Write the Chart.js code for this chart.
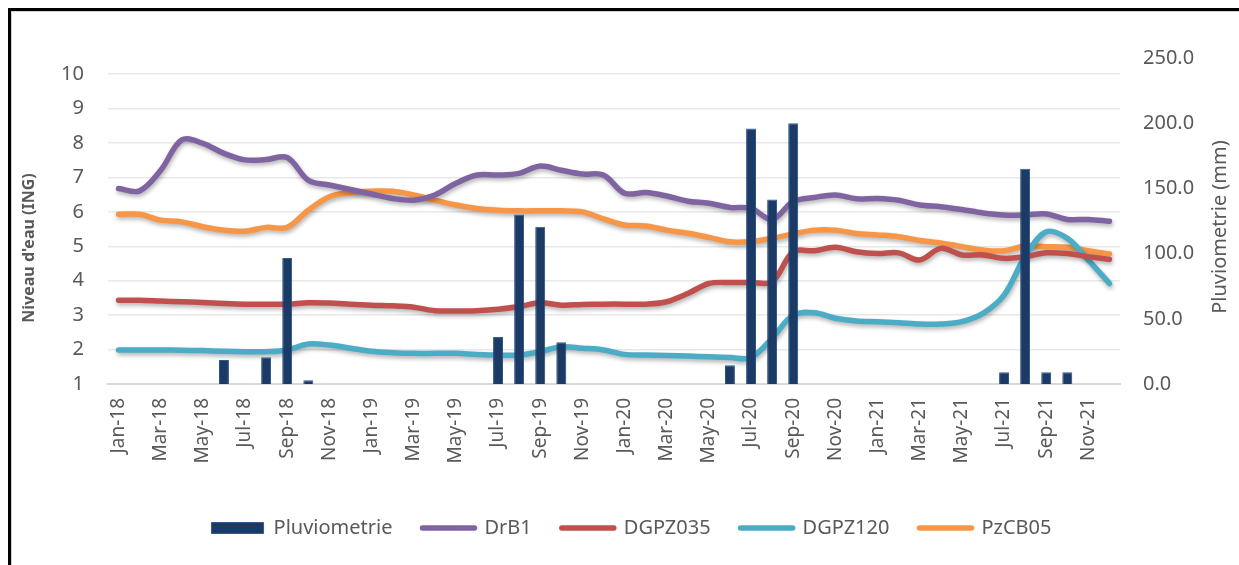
<!DOCTYPE html>
<html>
<head>
<meta charset="utf-8">
<script src="https://cdn.jsdelivr.net/npm/chart.js@4.4.1/dist/chart.umd.min.js"></script>
<style>
  html, body { margin: 0; padding: 0; background: #ffffff; }
  #wrap { position: relative; width: 1239px; height: 565px; overflow: hidden; }
  #frame { position: absolute; left: 8px; top: 8px; width: 1300px; height: 600px;
           border-left: 3px solid #000; border-top: 3px solid #000; box-sizing: border-box; }
  #frame2 { position: absolute; left: 11px; top: 11px; width: 1300px; height: 600px;
           border-left: 1px solid #cfcfcf; border-top: 1px solid #cfcfcf; box-sizing: border-box; }
  #cv { position: absolute; left: 0; top: 0; }
</style>
</head>
<body>
<div id="wrap">
  <div id="frame"></div>
  <div id="frame2"></div>
  <canvas id="cv" width="1239" height="565"></canvas>
</div>
<script>
const months = ["Jan-18","Feb-18","Mar-18","Apr-18","May-18","Jun-18","Jul-18","Aug-18","Sep-18","Oct-18","Nov-18","Dec-18",
  "Jan-19","Feb-19","Mar-19","Apr-19","May-19","Jun-19","Jul-19","Aug-19","Sep-19","Oct-19","Nov-19","Dec-19",
  "Jan-20","Feb-20","Mar-20","Apr-20","May-20","Jun-20","Jul-20","Aug-20","Sep-20","Oct-20","Nov-20","Dec-20",
  "Jan-21","Feb-21","Mar-21","Apr-21","May-21","Jun-21","Jul-21","Aug-21","Sep-21","Oct-21","Nov-21","Dec-21"];

const pluviometrie = [0,0,0,0,0,18.5,0,20.6,96.7,2.8,0,0,
  0,0,0,0,0,0,36,130,120.5,32,0,0,
  0,0,0,0,0,14.3,196,141.5,200,0,0,0,
  0,0,0,0,0,0,9,165,9,9,0,0];

const drB1 = [6.68,6.61,7.21,8.09,7.99,7.70,7.51,7.52,7.58,6.92,6.78,6.65,
  6.52,6.39,6.34,6.49,6.83,7.07,7.07,7.12,7.33,7.21,7.10,7.07,
  6.54,6.56,6.46,6.31,6.25,6.13,6.10,5.78,6.30,6.42,6.49,6.38,
  6.39,6.34,6.20,6.15,6.07,5.97,5.91,5.91,5.94,5.78,5.78,5.73];

const dgpz035 = [3.43,3.43,3.41,3.39,3.37,3.34,3.32,3.32,3.32,3.36,3.35,3.32,
  3.29,3.27,3.23,3.13,3.12,3.13,3.17,3.25,3.36,3.29,3.31,3.32,
  3.32,3.32,3.39,3.63,3.92,3.95,3.95,3.97,4.84,4.87,4.97,4.84,
  4.79,4.81,4.60,4.94,4.75,4.75,4.65,4.70,4.81,4.79,4.70,4.62];

const dgpz120 = [1.99,1.99,1.99,1.98,1.97,1.95,1.94,1.94,1.99,2.16,2.13,2.04,
  1.95,1.91,1.89,1.89,1.89,1.86,1.84,1.84,1.94,2.08,2.04,1.99,
  1.86,1.84,1.83,1.81,1.79,1.77,1.77,2.33,3.00,3.07,2.91,2.83,
  2.81,2.78,2.74,2.74,2.81,3.05,3.58,4.70,5.42,5.23,4.60,3.92];

const pzCB05 = [5.93,5.93,5.76,5.71,5.57,5.47,5.44,5.55,5.55,6.05,6.44,6.56,
  6.60,6.60,6.49,6.34,6.20,6.10,6.05,6.03,6.03,6.03,6.00,5.80,
  5.62,5.59,5.47,5.38,5.26,5.13,5.14,5.23,5.36,5.47,5.47,5.37,
  5.33,5.28,5.17,5.10,4.99,4.89,4.87,5.01,4.99,4.97,4.87,4.78];

const leftTicks = [1,2,3,4,5,6,7,8,9,10];
const rightTicks = [0,50,100,150,200,250];

const FONT = "'Noto Sans', 'DejaVu Sans', sans-serif";
const GREY = '#595959';

function lineDs(label, data, color) {
  return { type: 'line', label, data, borderColor: color, backgroundColor: color,
    borderWidth: 5.5, pointRadius: 0, pointHoverRadius: 0, tension: 0.35,
    borderCapStyle: 'round', borderJoinStyle: 'round', yAxisID: 'y', order: 1 };
}

const shadowPlugin = {
  id: 'lineShadow',
  beforeDatasetDraw(chart, args) {
    const ds = chart.data.datasets[args.index];
    const ctx = chart.ctx;
    ctx.save();
    if (ds.type === 'line') {
      ctx.shadowColor = 'rgba(0,0,0,0.30)';
      ctx.shadowBlur = 4;
      ctx.shadowOffsetX = 1;
      ctx.shadowOffsetY = 2.5;
    } else {
      ctx.shadowColor = 'rgba(0,0,0,0.25)';
      ctx.shadowBlur = 3;
      ctx.shadowOffsetX = 0;
      ctx.shadowOffsetY = 2;
    }
  },
  afterDatasetDraw(chart) { chart.ctx.restore(); }
};

const titlesPlugin = {
  id: 'axisTitles',
  afterDraw(chart) {
    const ctx = chart.ctx;
    ctx.save();
    ctx.fillStyle = GREY;
    ctx.textAlign = 'center';
    ctx.textBaseline = 'middle';
    ctx.translate(29, 248);
    ctx.rotate(-Math.PI / 2);
    ctx.font = "bold 16px " + FONT;
    ctx.fillText("Niveau d'eau (ING)", 0, 0);
    ctx.restore();
    ctx.save();
    ctx.fillStyle = GREY;
    ctx.textAlign = 'center';
    ctx.textBaseline = 'middle';
    ctx.translate(1220, 227);
    ctx.rotate(-Math.PI / 2);
    ctx.font = "20px " + FONT;
    ctx.fillText("Pluviometrie (mm)", 0, 0);
    ctx.restore();
  }
};

new Chart(document.getElementById('cv'), {
  data: {
    labels: months,
    datasets: [
      { type: 'bar', label: 'Pluviometrie', data: pluviometrie, yAxisID: 'y1', order: 0,
        backgroundColor: '#1B3A66', borderColor: '#2F5C93', borderWidth: 1,
        barPercentage: 0.47, categoryPercentage: 1.0 },
      lineDs('DrB1', drB1, '#8064A2'),
      lineDs('DGPZ035', dgpz035, '#C0504D'),
      lineDs('DGPZ120', dgpz120, '#4BACC6'),
      lineDs('PzCB05', pzCB05, '#F79646')
    ]
  },
  options: {
    responsive: false,
    animation: false,
    layout: { padding: { left: 24, right: 0, top: 58, bottom: 17 } },
    plugins: {
      tooltip: { enabled: false },
      legend: {
        position: 'bottom',
        labels: {
          color: GREY,
          font: { family: FONT, size: 20 },
          usePointStyle: true,
          pointStyleWidth: 52,
          boxHeight: 11,
          padding: 30,
          generateLabels(chart) {
            const items = Chart.defaults.plugins.legend.labels.generateLabels(chart);
            items.forEach(it => {
              const ds = chart.data.datasets[it.datasetIndex];
              if (ds.type === 'line') {
                it.pointStyle = 'line'; it.lineWidth = 5.5; it.strokeStyle = ds.borderColor; it.lineCap = 'round';
              } else {
                it.pointStyle = 'rect'; it.fillStyle = ds.backgroundColor; it.strokeStyle = ds.borderColor; it.lineWidth = 1;
              }
            });
            return items;
          }
        }
      }
    },
    scales: {
      x: {
        offset: true,
        grid: { display: false, drawTicks: false },
        border: { display: true, color: '#D9D9D9', width: 2 },
        ticks: {
          autoSkip: false, maxRotation: 90, minRotation: 90, padding: 14,
          color: GREY, font: { family: FONT, size: 19 },
          callback(v, i) { return i % 2 === 0 ? months[i] : ''; }
        },
        afterFit(scale) { scale.height = 104; }
      },
      y: {
        position: 'left', min: 1, max: 10.47,
        grid: { color: '#E8E8E8', lineWidth: 1.5, drawTicks: false },
        border: { display: false },
        ticks: { color: GREY, font: { family: FONT, size: 20 }, padding: 24, stepSize: 1 },
        afterBuildTicks(scale) { scale.ticks = leftTicks.map(v => ({ value: v })); },
        afterFit(scale) { scale.width = 84; }
      },
      y1: {
        position: 'right', min: 0, max: 250,
        grid: { display: false, drawTicks: false },
        border: { display: false },
        ticks: { color: GREY, font: { family: FONT, size: 20 }, padding: 23,
          callback(v) { return Number(v).toFixed(1); } },
        afterBuildTicks(scale) { scale.ticks = rightTicks.map(v => ({ value: v })); },
        afterFit(scale) { scale.width = 119; }
      }
    }
  },
  plugins: [shadowPlugin, titlesPlugin]
});
</script>
</body>
</html>
